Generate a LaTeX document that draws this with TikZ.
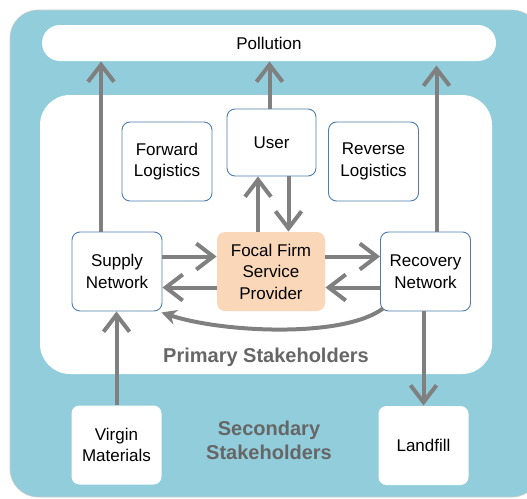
\documentclass[tikz,border=0pt]{standalone}
\usepackage{fontspec}
\setmainfont{Liberation Sans}
\usetikzlibrary{arrows.meta}

\definecolor{outerteal}{HTML}{92CDDC}
\definecolor{firmpeach}{HTML}{FBD7B9}
\definecolor{boxborder}{HTML}{4F7DAF}
\definecolor{flowgray}{HTML}{808080}
\definecolor{lblgray}{HTML}{666666}

\begin{document}
\begin{tikzpicture}[
    x=1pt, y=-1pt,
    box/.style={draw=boxborder, line width=0.9pt, fill=white,
                rounded corners=8pt, minimum width=90pt,
                minimum height=79pt, align=center,
                font=\fontsize{17}{21.5}\selectfont, text=black},
    firm/.style={box, draw=none, fill=firmpeach, minimum width=108pt},
    outbox/.style={box, draw=none},
    flow/.style={-{Straight Barb[length=17pt,width=26pt,line width=4pt]},
                 line width=4pt, flowgray},
    back/.style={-{Stealth[length=15pt,width=15pt]},
                 line width=4pt, flowgray},
    grouplbl/.style={font=\fontsize{20}{24}\selectfont\bfseries,
                     text=lblgray, align=center},
]
\useasboundingbox (0,0) rectangle (527,498);

% --- Backgrounds ---
\fill[outerteal, draw=black!20, line width=0.6pt, rounded corners=28pt]
    (10,10) rectangle (540,497);
\fill[white, rounded corners=30pt] (40,95) rectangle (492,374);

% --- Nodes ---
\node[outbox, minimum width=454pt, minimum height=36pt,
      rounded corners=18pt] (pollution) at (269,43) {Pollution};

\node[box] (fwdlog) at (167,161.5) {Forward\\Logistics};
\node[box, minimum width=89pt, minimum height=67pt] (user)
    at (271.5,142.5) {User};
\node[box] (revlog) at (373.5,161.5) {Reverse\\Logistics};

\node[box]  (supply)   at (117,271.5)   {Supply\\Network};
\node[firm] (focal)    at (271,271.5)   {Focal Firm\\Service\\Provider};
\node[box]  (recovery) at (425.5,271.5) {Recovery\\Network};

\node[outbox] (virgin)   at (116.5,445) {Virgin\\Materials};
\node[outbox] (landfill) at (423.5,445.5) {Landfill};

% --- Flows to pollution ---
\draw[flow] ([xshift=-16pt]supply.north)
    -- ([xshift=-16pt]supply.north |- pollution.south);
\draw[flow] ([xshift=-2pt]user.north)
    -- ([xshift=-2pt]user.north |- pollution.south);
\draw[flow] ([xshift=11pt]recovery.north)
    -- ([xshift=11pt,yshift=-4pt]recovery.north |- pollution.south);

% --- Focal firm and user ---
\draw[flow] ([xshift=-13pt]focal.north) -- ([xshift=-13pt]focal.north |- user.south);
\draw[flow] ([xshift=17pt]user.south) -- ([xshift=17pt]user.south |- focal.north);

% --- Supply side ---
\draw[flow] ([yshift=15pt]supply.east) -- ([yshift=15pt]focal.west);
\draw[flow] ([yshift=-16pt]focal.west) -- ([yshift=-16pt]supply.east);

% --- Recovery side ---
\draw[flow] ([yshift=15pt]focal.east) -- ([yshift=15pt]recovery.west);
\draw[flow] ([yshift=-16pt]recovery.west) -- ([yshift=-16pt]focal.east);

% --- Return loop and secondary flows ---
\draw[back] ([xshift=3pt,yshift=3pt]recovery.south west)
    .. controls +(-40,30) and +(60,20) .. ([xshift=-1pt,yshift=-1pt]supply.south east);
\draw[flow] (virgin.north) -- (virgin.north |- supply.south);
\draw[flow] (recovery.south -| landfill.north) -- (landfill.north);

% --- Group labels ---
\node[grouplbl] (primlbl) at (266,357) {Primary Stakeholders};
\node[grouplbl] (seclbl)  at (269,440) {Secondary\\Stakeholders};

\end{tikzpicture}
\end{document}
